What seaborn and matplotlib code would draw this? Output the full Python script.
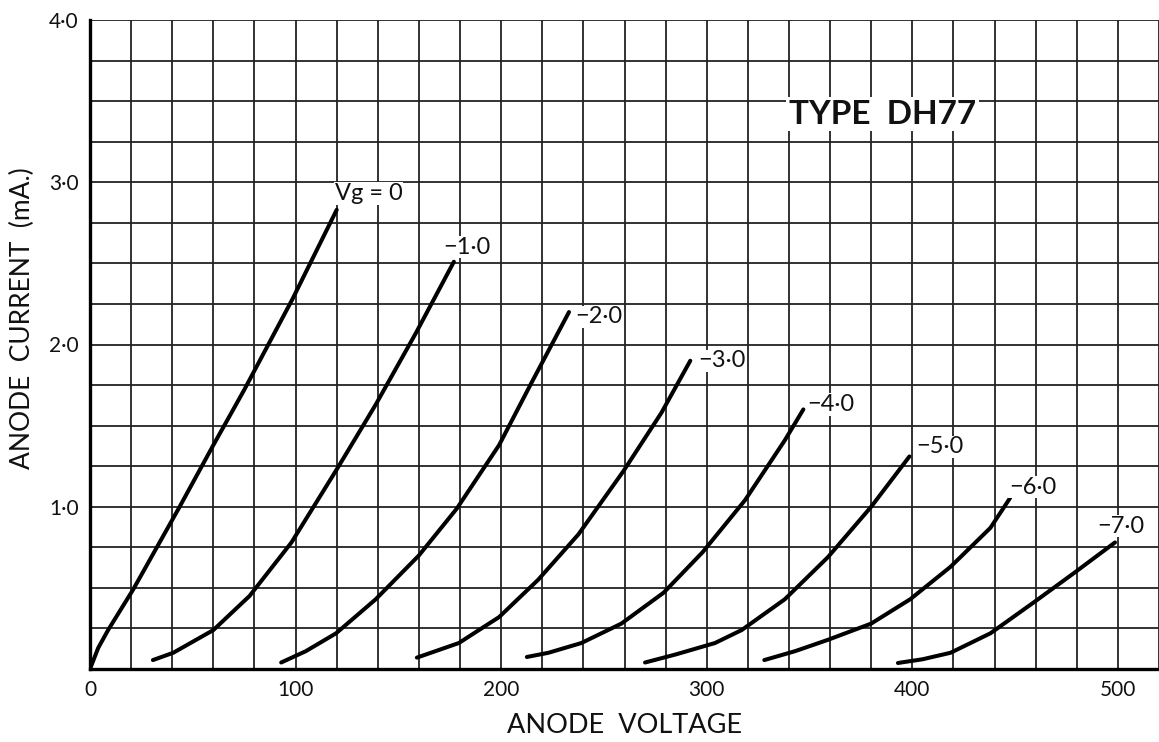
import matplotlib
matplotlib.use("Agg")
import matplotlib.pyplot as plt
import numpy as np
import pandas as pd
import seaborn as sns

# anode characteristics (volts, mA)
grid_volts = ["0", "-1", "-2", "-3", "-4", "-5", "-6", "-7"]

va_0 = [0, 4, 8.8, 21, 43.6, 60, 75, 98.5, 120]
ia_0 = [0, 0.13, 0.24, 0.49, 1.0, 1.38, 1.72, 2.28, 2.83]

va_1 = [30.6, 40.5, 60, 77.6, 98, 120.5, 139, 158.5, 177]
ia_1 = [0.055, 0.10, 0.24, 0.45, 0.78, 1.24, 1.63, 2.07, 2.51]

va_2 = [93, 105, 119.7, 139, 160, 178.5, 199, 215, 233]
ia_2 = [0.04, 0.11, 0.22, 0.43, 0.70, 0.99, 1.38, 1.77, 2.20]

va_3 = [159, 179.4, 199, 218, 237.6, 259.5, 278, 292]
ia_3 = [0.07, 0.16, 0.32, 0.55, 0.83, 1.22, 1.58, 1.90]

va_4 = [212.5, 223, 239, 258.5, 279, 298, 318.6, 338, 347]
ia_4 = [0.074, 0.10, 0.16, 0.28, 0.47, 0.72, 1.04, 1.41, 1.60]

va_5 = [270, 285, 304, 317, 338, 359, 380, 398.6]
ia_5 = [0.04, 0.09, 0.16, 0.24, 0.43, 0.69, 1.0, 1.31]

va_6 = [328, 343, 359, 380, 399, 418.6, 438, 447.6]
ia_6 = [0.055, 0.11, 0.18, 0.28, 0.43, 0.63, 0.87, 1.055]

va_7 = [393, 405, 418.6, 438, 459, 478.5, 498.6]
ia_7 = [0.037, 0.06, 0.10, 0.22, 0.41, 0.59, 0.78]

curve_labels = ["Vg = 0", "\u22121\u00b70", "\u22122\u00b70", "\u22123\u00b70",
                "\u22124\u00b70", "\u22125\u00b70", "\u22126\u00b70", "\u22127\u00b70"]
label_v = [119, 172, 236, 296, 349, 402, 447, 490]
label_i = [2.93, 2.60, 2.17, 1.90, 1.63, 1.37, 1.12, 0.88]

x_ticks = [0, 100, 200, 300, 400, 500]
y_ticks = [1.0, 2.0, 3.0, 4.0]
y_ticklabels = ["1\u00b70", "2\u00b70", "3\u00b70", "4\u00b70"]

volts = [va_0, va_1, va_2, va_3, va_4, va_5, va_6, va_7]
amps = [ia_0, ia_1, ia_2, ia_3, ia_4, ia_5, ia_6, ia_7]
df = pd.concat([pd.DataFrame({"voltage": v, "current": i, "vg": g})
                for v, i, g in zip(volts, amps, grid_volts)], ignore_index=True)

sns.set_theme(style="white")
fonts = ["Lato", "DejaVu Sans"]
plt.rcParams["font.family"] = fonts

fig = plt.figure(figsize=(11.59, 7.42), dpi=100)
ax = fig.add_axes([90 / 1159, 1 - 669 / 742, 1069 / 1159, 649 / 742])

sns.lineplot(data=df, x="voltage", y="current", hue="vg", palette=["black"] * 8,
             estimator=None, sort=False, legend=False, lw=2.9,
             solid_capstyle="round", solid_joinstyle="round", ax=ax, zorder=3)

ax.set_xlim(0, 518.4)
ax.set_ylim(0, 4.0)
ax.set_xticks(x_ticks)
ax.set_xticklabels([str(t) for t in x_ticks], fontsize=15)
ax.set_xticks(np.arange(0, 521, 20), minor=True)
ax.set_yticks(y_ticks)
ax.set_yticklabels(y_ticklabels, fontsize=15)
ax.set_yticks(np.arange(0, 4.01, 0.25), minor=True)
ax.tick_params(which="both", length=0, pad=8, colors="#111111")
ax.grid(True, which="both", color="#222222", lw=1.3)
ax.set_axisbelow(True)

for side in ["top", "right"]:
    ax.spines[side].set_visible(False)
for side in ["left", "bottom"]:
    ax.spines[side].set_color("black")
    ax.spines[side].set_linewidth(2.4)

ax.set_xlabel("ANODE  VOLTAGE", fontsize=19.5, color="#111111", labelpad=9)
ax.set_ylabel("ANODE  CURRENT  (mA.)", fontsize=19, color="#111111")
ax.yaxis.set_label_coords(-0.051, 0.54)

for txt, v, i in zip(curve_labels, label_v, label_i):
    ax.text(v, i, txt, fontsize=17, ha="left", va="center", color="#111111", zorder=4,
            bbox=dict(facecolor="white", edgecolor="none", pad=0.5))

ax.text(385.6, 3.42, "TYPE  DH77", fontsize=24, fontweight="bold", ha="center",
        va="center", color="#111111", zorder=4,
        bbox=dict(facecolor="white", edgecolor="none", pad=2))

fig.savefig("out.png", dpi=100)
